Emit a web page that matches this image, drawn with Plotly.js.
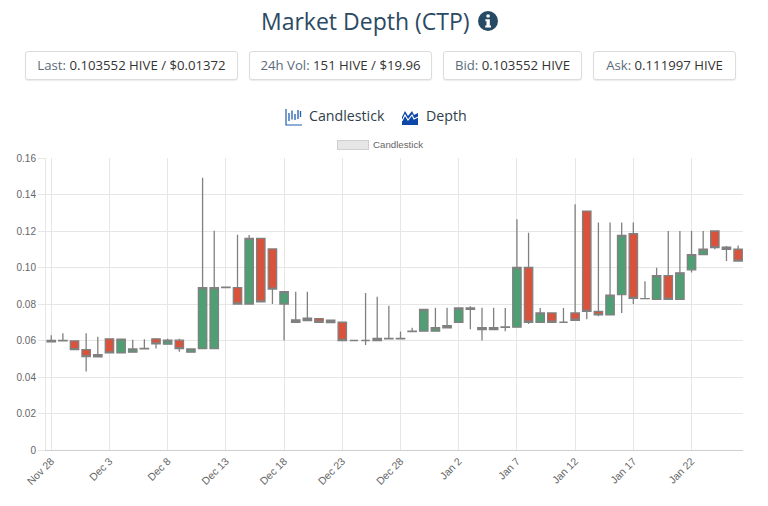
<!DOCTYPE html>
<html><head><meta charset="utf-8">
<script src="https://cdn.plot.ly/plotly-3.0.1.min.js"></script>
<style>
html,body{margin:0;padding:0;background:#fff;width:768px;height:506px;overflow:hidden;font-family:"Open Sans",sans-serif}
#chart{position:absolute;left:0;top:0;width:768px;height:506px}
.h{position:absolute;white-space:nowrap}
.box{position:absolute;top:51px;height:27px;border:1px solid #dcdcdc;border-radius:3px;box-shadow:0 1px 1px rgba(0,0,0,.08);background:#fff;font-size:13.200px;line-height:27px;text-align:center;color:#5b6b7a;box-sizing:content-box}
.box b{font-weight:400;color:#333}
</style></head><body>
<div id="chart"></div>
<div class="h" style="left:261px;top:3px;font-size:23px;line-height:36px;color:#2b4a63">Market Depth (CTP)</div>
<svg class="h" style="left:478px;top:11px" width="20" height="20" viewBox="0 0 20 20"><circle cx="10" cy="10" r="10" fill="#264a63"/><rect x="8.4" y="3.6" width="3.4" height="3" rx="1" fill="#fff"/><path d="M7.4 8.2h4.4v6.2h1.2v2H7.2v-2h1.3v-4.2h-1.1z" fill="#fff"/></svg>
<div class="box" style="left:25px;width:211px">Last: <b>0.103552 HIVE / $0.01372</b></div>
<div class="box" style="left:249px;width:181px">24h Vol: <b>151 HIVE / $19.96</b></div>
<div class="box" style="left:443px;width:137px">Bid: <b>0.103552 HIVE</b></div>
<div class="box" style="left:593px;width:141px">Ask: <b>0.111997 HIVE</b></div>
<svg class="h" style="left:285px;top:108px" width="18" height="18" viewBox="0 0 18 18"><path d="M1 1v16h16" fill="none" stroke="#1f5fb0" stroke-width="1.2"/><path d="M4 5v8M7 2.500v9M10 6v6M13 2v9M15.500 3v6" stroke="#1f5fb0" stroke-width="1.3"/></svg>
<div class="h" style="left:309px;top:106px;font-size:14.200px;line-height:20px;color:#2f3e4c">Candlestick</div>
<svg class="h" style="left:401px;top:108px" width="18" height="18" viewBox="0 0 18 18"><path d="M1 17V9l3-6 3 5 4-5 2 4 4-2v12z" fill="#0d47a8"/><path d="M1 13l3-6 3 5 4-5 2 4 4-2" fill="none" stroke="#fff" stroke-width="1.1"/></svg>
<div class="h" style="left:426px;top:106px;font-size:14.200px;line-height:20px;color:#2f3e4c">Depth</div>
<div class="h" style="left:337px;top:140px;width:30px;height:8px;background:#e6e6e6;border:1.500px solid #cfcfcf"></div>
<div class="h" style="left:373px;top:138px;font-family:'Liberation Sans',sans-serif;font-size:9.700px;line-height:13px;color:#666">Candlestick</div>
<script>
const days = ["Nov 28","Nov 29","Nov 30","Dec 1","Dec 2","Dec 3","Dec 4","Dec 5","Dec 6","Dec 7","Dec 8","Dec 9","Dec 10","Dec 11","Dec 12","Dec 13","Dec 14","Dec 15","Dec 16","Dec 17","Dec 18","Dec 19","Dec 20","Dec 21","Dec 22","Dec 23","Dec 24","Dec 25","Dec 26","Dec 27","Dec 28","Dec 29","Dec 30","Dec 31","Jan 1","Jan 2","Jan 3","Jan 4","Jan 5","Jan 6","Jan 7","Jan 8","Jan 9","Jan 10","Jan 11","Jan 12","Jan 13","Jan 14","Jan 15","Jan 16","Jan 17","Jan 18","Jan 19","Jan 20","Jan 21","Jan 22","Jan 23","Jan 24","Jan 25","Jan 26"];
const open_ = [.0592,.0598,.0598,.055,.0511,.0609,.0532,.0536,.0554,.0609,.058,.0602,.0536,.0556,.0556,.0892,.089,.08,.116,.1102,.08,.07,.0709,.072,.0711,.07,.06,.06,.06,.0609,.0609,.0649,.0651,.0651,.067,.07,.0778,.0671,.066,.0672,.0673,.10,.07,.0751,.07,.0751,.1309,.076,.074,.0851,.1185,.083,.0825,.0955,.0825,.0987,.1071,.12,.1111,.11];
const close_ = [.06,.06,.055,.0512,.0522,.0532,.0607,.0554,.0557,.0582,.0602,.0556,.0554,.089,.089,.089,.08,.116,.0812,.0882,.0867,.0713,.0722,.07,.0698,.06,.06,.06,.0611,.0611,.0611,.0651,.0771,.0671,.0682,.0778,.0771,.066,.0671,.0674,.10,.07,.0751,.07,.07,.0711,.076,.074,.0849,.1176,.0831,.0829,.0955,.0825,.0971,.1071,.11,.1109,.11,.1035];
const high_ = [.0629,.064,.0598,.064,.062,.0609,.0607,.0604,.0607,.0609,.0609,.0609,.0554,.1492,.1202,.0892,.118,.1178,.116,.1102,.0867,.0867,.0867,.072,.0711,.07,.06,.086,.084,.079,.065,.067,.0771,.078,.078,.0778,.0787,.078,.078,.0778,.1264,.119,.0778,.0751,.0778,.1347,.1309,.1247,.1247,.1247,.1247,.0924,.0998,.12,.12,.12,.12,.12,.1118,.112];
const low_ = [.0592,.0598,.055,.043,.0511,.0532,.0532,.0536,.0554,.0556,.058,.0538,.0536,.0556,.0556,.089,.08,.08,.0812,.08,.06,.07,.0709,.07,.0698,.06,.06,.0576,.06,.0609,.0609,.0649,.0651,.0651,.067,.07,.0662,.06,.066,.0651,.0673,.0691,.07,.07,.07,.0711,.0716,.0733,.074,.0751,.08,.0829,.0825,.0825,.0825,.0973,.1071,.11,.1036,.1035];
const yTicks = [0,0.02,0.04,0.06,0.08,0.10,0.12,0.14,0.16];
const yLabels = ["0","0.02","0.04","0.06","0.08","0.10","0.12","0.14","0.16"];
const xTicks = days.filter((d,i)=>i%5===0);
const grid = "#e6e6e6", txt = "#666";
Plotly.newPlot("chart",[{
  type:"candlestick", x:days, open:open_, high:high_, low:low_, close:close_,
  increasing:{line:{color:"#808080",width:1.3},fillcolor:"#4f9f74"},
  decreasing:{line:{color:"#808080",width:1.3},fillcolor:"#d9533c"},
  whiskerwidth:0, showlegend:false, hoverinfo:"skip"
}],{
  width:768,height:506,
  margin:{l:45.5,r:25,t:158,b:55.5,pad:0},
  paper_bgcolor:"rgba(0,0,0,0)",plot_bgcolor:"rgba(0,0,0,0)",
  boxgap:0.2,boxgroupgap:0.1,
  font:{family:"Liberation Sans, Arial, sans-serif",size:10,color:txt},
  showlegend:false,
  xaxis:{type:"category",range:[-0.45,59.42],tickmode:"array",tickvals:xTicks,ticktext:xTicks,tickangle:-45,
    gridcolor:grid,gridwidth:1,showline:true,linecolor:"#cfcfcf",linewidth:1,ticks:"",
    rangeslider:{visible:false},zeroline:false,automargin:false,fixedrange:true,tickfont:{size:10.500,color:txt}},
  yaxis:{range:[0,0.16],tickmode:"array",tickvals:yTicks,ticktext:yLabels,gridcolor:grid,gridwidth:1,
    showline:true,linecolor:grid,linewidth:1,ticks:"outside",ticklen:7,tickcolor:grid,zeroline:false,automargin:false,fixedrange:true,tickfont:{size:10,color:txt}}
},{displayModeBar:false,staticPlot:true});
</script>
</body></html>
